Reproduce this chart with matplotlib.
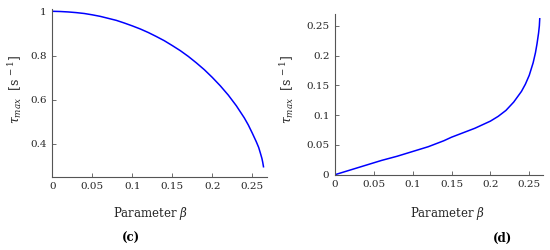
import matplotlib
matplotlib.use("Agg")
import matplotlib.pyplot as plt

beta_c = [0.0, 0.01, 0.02, 0.03, 0.04, 0.05, 0.06, 0.07, 0.08, 0.09,
          0.10, 0.11, 0.12, 0.13, 0.14, 0.15, 0.16, 0.17, 0.18, 0.19,
          0.20, 0.21, 0.22, 0.23, 0.24, 0.245, 0.25, 0.255, 0.258, 0.26,
          0.262, 0.263, 0.264]
tau_c = [1.000, 0.999, 0.997, 0.994, 0.990, 0.984, 0.977, 0.968, 0.959, 0.947,
         0.934, 0.920, 0.904, 0.886, 0.867, 0.845, 0.822, 0.796, 0.767, 0.736,
         0.701, 0.663, 0.621, 0.573, 0.518, 0.486, 0.449, 0.410, 0.384, 0.360,
         0.335, 0.318, 0.297]

beta_d = [0.0, 0.02, 0.04, 0.05, 0.06, 0.08, 0.10, 0.12, 0.14, 0.15,
          0.16, 0.18, 0.20, 0.21, 0.22, 0.23, 0.24, 0.245, 0.25, 0.255,
          0.258, 0.26, 0.262, 0.263, 0.2635]
tau_d = [0.000, 0.008, 0.016, 0.020, 0.024, 0.031, 0.039, 0.047, 0.057, 0.063,
         0.068, 0.078, 0.090, 0.098, 0.108, 0.122, 0.140, 0.152, 0.167, 0.188,
         0.205, 0.220, 0.238, 0.250, 0.262]

xticks = [0, 0.05, 0.1, 0.15, 0.2, 0.25]
xlabels = ["0", "0.05", "0.1", "0.15", "0.2", "0.25"]
yticks_c = [0.4, 0.6, 0.8, 1.0]
ylabels_c = ["0.4", "0.6", "0.8", "1"]
yticks_d = [0, 0.05, 0.1, 0.15, 0.2, 0.25]
ylabels_d = ["0", "0.05", "0.1", "0.15", "0.2", "0.25"]

plt.rcParams["font.family"] = "DejaVu Serif"
plt.rcParams["mathtext.fontset"] = "dejavuserif"

fig = plt.figure(figsize=(5.5, 2.5), dpi=100)

ax1 = fig.add_axes([0.0951, 0.2932, 0.3898, 0.6696])
ax2 = fig.add_axes([0.609, 0.3012, 0.3787, 0.6428])

gray = "#555555"

for ax in (ax1, ax2):
    ax.spines["top"].set_visible(False)
    ax.spines["right"].set_visible(False)
    ax.spines["left"].set_color(gray)
    ax.spines["bottom"].set_color(gray)
    ax.spines["left"].set_linewidth(0.8)
    ax.spines["bottom"].set_linewidth(0.8)
    ax.tick_params(direction="in", length=3, width=0.6, colors=gray,
                   labelcolor="#262626", labelsize=7.5, pad=4)
    ax.set_xticks(xticks)
    ax.set_xticklabels(xlabels)
    ax.set_xlim(0, 0.268)

ax1.plot(beta_c, tau_c, color="#0000ff", lw=1.1)
ax1.set_ylim(0.252, 1.009)
ax1.set_yticks(yticks_c)
ax1.set_yticklabels(ylabels_c)

ax2.plot(beta_d, tau_d, color="#0000ff", lw=1.1)
ax2.set_ylim(0, 0.27)
ax2.set_yticks(yticks_d)
ax2.set_yticklabels(ylabels_d)

ylab = r"$\tau_{max}$  [s$^{\,-1}$]"
fig.text(15 / 550, 1 - 90 / 250, ylab, rotation=90, ha="center", va="center",
         fontsize=9, color="#262626")
fig.text(287 / 550, 1 - 90 / 250, ylab, rotation=90, ha="center", va="center",
         fontsize=9, color="#262626")

fig.text(150 / 550, 1 - 214 / 250, r"Parameter $\beta$", ha="center", va="center",
         fontsize=8.5, color="#262626")
fig.text(447 / 550, 1 - 214 / 250, r"Parameter $\beta$", ha="center", va="center",
         fontsize=8.5, color="#262626")

fig.text(131 / 550, 1 - 238 / 250, "(c)", ha="center", va="center",
         fontsize=8.5, fontweight="bold")
fig.text(502 / 550, 1 - 238 / 250, "(d)", ha="center", va="center",
         fontsize=8.5, fontweight="bold")

fig.savefig("out.png", dpi=100)
